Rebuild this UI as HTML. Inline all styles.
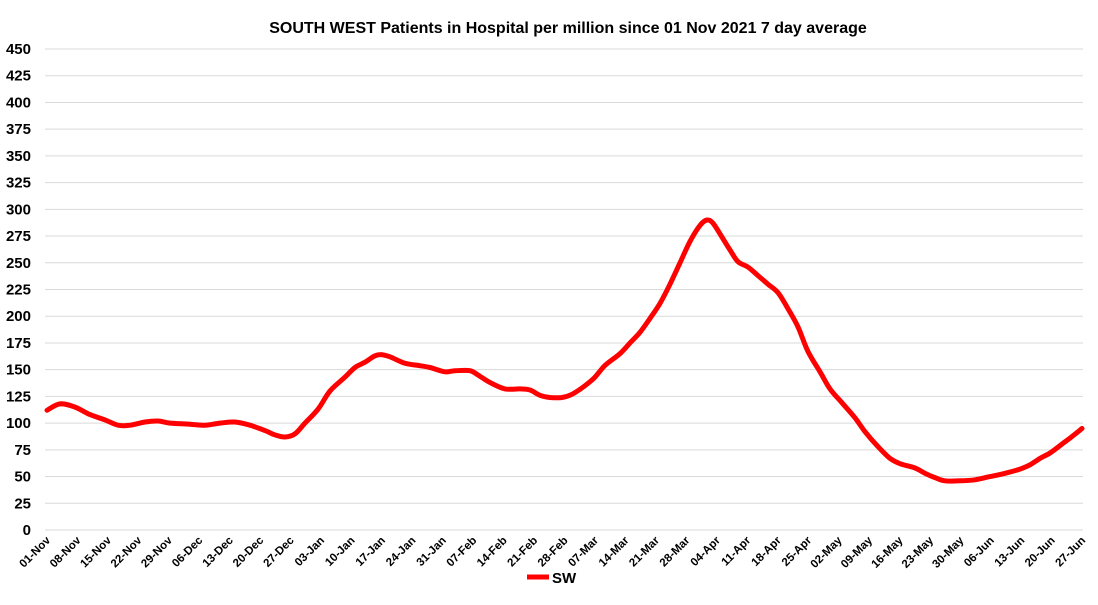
<!DOCTYPE html>
<html><head><meta charset="utf-8"><style>
body{margin:0;background:#fff;width:1098px;height:600px;overflow:hidden;font-family:"Liberation Sans",sans-serif}
</style></head><body>
<svg id="s" width="1098" height="600" xmlns="http://www.w3.org/2000/svg" font-family="Liberation Sans, sans-serif">
<text x="568" y="33" text-anchor="middle" font-size="16" font-weight="bold" fill="#000">SOUTH WEST Patients in Hospital per million since 01 Nov 2021 7 day average</text>
<g id="grid"></g><g id="xl"></g>
<path id="ln" fill="none" stroke="#ff0000" stroke-width="5" stroke-linejoin="round" stroke-linecap="round"/>
<line x1="527" y1="577" x2="549" y2="577" stroke="#ff0000" stroke-width="5"/>
<text x="552" y="583" font-size="15" font-weight="bold">SW</text>
</svg>
<script>
var ns="http://www.w3.org/2000/svg",g=document.getElementById('grid'),xl=document.getElementById('xl');
function Y(v){return 530-v*481/450;}
for(var v=0;v<=450;v+=25){var l=document.createElementNS(ns,'line');l.setAttribute('x1',45);l.setAttribute('x2',1083);l.setAttribute('y1',Y(v));l.setAttribute('y2',Y(v));l.setAttribute('stroke','#d9d9d9');l.setAttribute('stroke-width','1');g.appendChild(l);
var t=document.createElementNS(ns,'text');t.setAttribute('x',31);t.setAttribute('y',Y(v)+5);t.setAttribute('text-anchor','end');t.setAttribute('font-size','15');t.setAttribute('font-weight','bold');t.textContent=v;g.appendChild(t);}
var labs=["01-Nov","08-Nov","15-Nov","22-Nov","29-Nov","06-Dec","13-Dec","20-Dec","27-Dec","03-Jan","10-Jan","17-Jan","24-Jan","31-Jan","07-Feb","14-Feb","21-Feb","28-Feb","07-Mar","14-Mar","21-Mar","28-Mar","04-Apr","11-Apr","18-Apr","25-Apr","02-May","09-May","16-May","23-May","30-May","06-Jun","13-Jun","20-Jun","27-Jun"];
labs.forEach(function(s,i){var x=47+i*7*4.349;var t=document.createElementNS(ns,'text');t.setAttribute('x',x+4);t.setAttribute('y',541);t.setAttribute('text-anchor','end');t.setAttribute('font-size','11.5');t.setAttribute('font-weight','bold');t.setAttribute('transform','rotate(-45 '+(x+4)+' 541)');t.textContent=s;xl.appendChild(t);});
var d=[47,112,60,118,75,115,90,108,105,103,118,98,130,98,145,101,158,102,170,100,190,99,205,98,220,100,235,101,250,98,265,93,275,89,285,87,295,90,305,100,318,113,330,130,345,143,355,152,365,157,375,163,382,164,390,162,405,156,418,154,430,152,445,148,455,149,470,149,478,145,490,138,505,132,520,132,530,131,540,126,550,124,562,124,572,127,585,135,595,143,605,154,620,165,630,175,640,185,650,198,660,212,670,230,680,250,690,270,700,285,707,290,713,287,722,274,730,262,738,251,748,246,758,238,768,230,778,222,788,207,798,190,808,167,820,148,830,132,842,119,855,105,865,92,878,78,890,67,900,62,915,58,925,53,935,49,945,46,960,46,975,47,990,50,1005,53,1020,57,1030,61,1040,67,1050,72,1060,79,1070,86,1082,95];
var P=[];for(var i=0;i<d.length;i+=2)P.push([d[i],Y(d[i+1])]);
var s='M'+P[0][0]+','+P[0][1].toFixed(1);
for(var i=0;i<P.length-1;i++){var p0=P[Math.max(0,i-1)],p1=P[i],p2=P[i+1],p3=P[Math.min(P.length-1,i+2)];
var c1x=p1[0]+(p2[0]-p0[0])/6,c1y=p1[1]+(p2[1]-p0[1])/6,c2x=p2[0]-(p3[0]-p1[0])/6,c2y=p2[1]-(p3[1]-p1[1])/6;
s+=' C'+c1x.toFixed(1)+','+c1y.toFixed(1)+' '+c2x.toFixed(1)+','+c2y.toFixed(1)+' '+p2[0]+','+p2[1].toFixed(1);}
document.getElementById('ln').setAttribute('d',s);
</script>
</body></html>
